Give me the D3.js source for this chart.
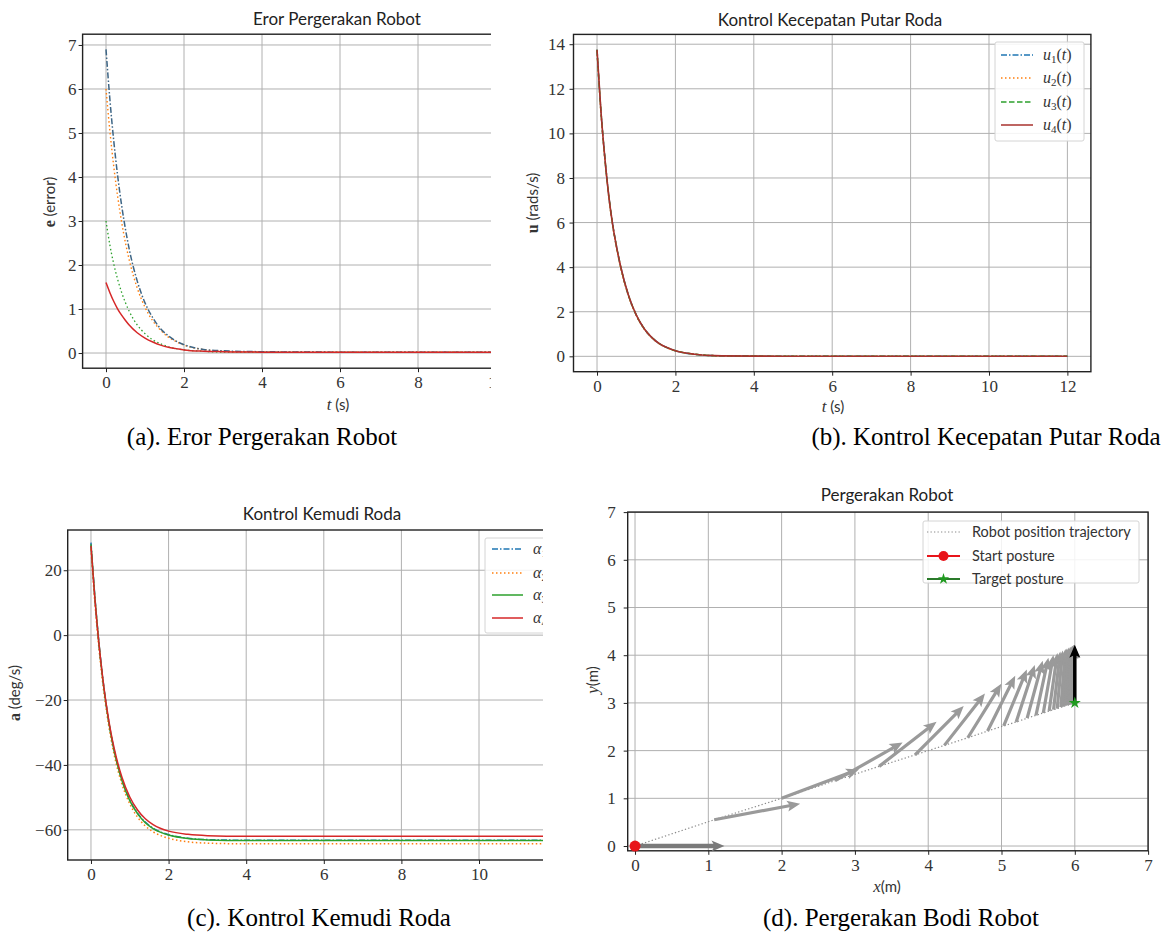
<!DOCTYPE html>
<html>
<head>
<meta charset="utf-8">
<script src="https://cdn.jsdelivr.net/npm/d3@7/dist/d3.min.js"></script>
<style>
  body { margin: 0; background: #fff; }
</style>
</head>
<body>
<svg id="fig" width="1162" height="945"></svg>
<script>
// ---- data ----
var timeSteps = [0, 0.1, 0.2, 0.3, 0.4, 0.5, 0.6, 0.8, 1.0, 1.2, 1.4, 1.6, 1.8, 2.0, 2.5, 3, 4, 6, 8, 10, 12];

// (a) error
var err1 = [6.9, 5.76, 4.81, 4.02, 3.36, 2.81, 2.34, 1.64, 1.14, 0.80, 0.55, 0.39, 0.27, 0.19, 0.08, 0.05, 0.03, 0.02, 0.02, 0.02, 0.02];
var err2 = [6.0, 5.04, 4.23, 3.55, 2.98, 2.50, 2.10, 1.48, 1.04, 0.73, 0.52, 0.36, 0.26, 0.18, 0.08, 0.04, 0.02, 0.02, 0.02, 0.02, 0.02];
var err3 = [3.0, 2.45, 2.02, 1.67, 1.38, 1.14, 0.94, 0.64, 0.44, 0.30, 0.21, 0.14, 0.10, 0.07, 0.04, 0.02, 0.02, 0.02, 0.02, 0.02, 0.02];
var err4 = [1.6, 1.37, 1.17, 1.0, 0.86, 0.74, 0.63, 0.46, 0.34, 0.25, 0.18, 0.13, 0.10, 0.07, 0.04, 0.03, 0.02, 0.02, 0.02, 0.02, 0.02];

// (b) wheel speed control
var u1 = [13.75, 11.0, 8.9, 7.2, 5.9, 4.9, 4.05, 2.75, 1.86, 1.25, 0.84, 0.56, 0.38, 0.25, 0.09, 0.03, 0.01, 0, 0, 0, 0];
var u2 = [13.7, 10.95, 8.85, 7.15, 5.85, 4.85, 4.0, 2.72, 1.84, 1.24, 0.83, 0.55, 0.37, 0.25, 0.09, 0.03, 0.01, 0, 0, 0, 0];
var u3 = [13.75, 11.0, 8.9, 7.2, 5.9, 4.9, 4.05, 2.75, 1.86, 1.25, 0.84, 0.56, 0.38, 0.25, 0.09, 0.03, 0.01, 0, 0, 0, 0];
var u4 = [13.75, 11.0, 8.9, 7.2, 5.9, 4.9, 4.05, 2.75, 1.86, 1.25, 0.84, 0.56, 0.38, 0.25, 0.09, 0.03, 0.01, 0, 0, 0, 0];

// (c) steering control
var alpha1 = [28.5, 11.9, -1.7, -12.9, -22.0, -29.5, -35.6, -44.7, -50.8, -54.9, -57.6, -59.5, -60.7, -61.5, -62.6, -63.0, -63.2, -63.2, -63.2, -63.2, -63.2];
var alpha2 = [26.5, 10.0, -3.4, -14.5, -23.5, -30.9, -37.0, -46.0, -52.0, -56.1, -58.8, -60.6, -61.8, -62.6, -63.7, -64.1, -64.3, -64.3, -64.3, -64.3, -64.3];
var alpha3 = [28.0, 11.5, -2.1, -13.2, -22.3, -29.7, -35.8, -44.9, -51.0, -55.0, -57.8, -59.6, -60.8, -61.6, -62.7, -63.1, -63.3, -63.3, -63.3, -63.3, -63.3];
var alpha4 = [27.5, 11.3, -2.0, -12.9, -21.8, -29.1, -35.0, -43.9, -49.9, -53.9, -56.6, -58.4, -59.6, -60.4, -61.4, -61.8, -62.0, -62.0, -62.0, -62.0, -62.0];

// (d) robot body motion
var robotX = [0, 1.08, 2.0, 2.73, 3.33, 3.82, 4.22, 4.54, 4.81, 5.03, 5.2, 5.35, 5.47, 5.57, 5.65, 5.71, 5.76, 5.81, 5.84, 5.87, 5.9, 5.92, 5.93, 5.95, 5.96, 5.97, 5.97, 5.98, 5.98, 5.99];
var robotY = [0, 0.55, 1.0, 1.37, 1.67, 1.91, 2.11, 2.27, 2.41, 2.52, 2.6, 2.68, 2.74, 2.79, 2.83, 2.86, 2.88, 2.91, 2.92, 2.94, 2.95, 2.96, 2.97, 2.98, 2.98, 2.99, 2.99, 2.99, 2.99, 3.0];
var robotHeading = [0, 16, 30, 41, 50, 57, 63, 68, 72, 75, 78, 80, 82, 83.5, 84.7, 85.7, 86.5, 87.1, 87.6, 88, 88.4, 88.7, 89, 89.2, 89.3, 89.5, 89.6, 89.7, 89.8, 89.8];
var startPose = [0, 0, 0];
var targetPose = [6, 3, 90];
var arrowLen = 1.22;

var ticksA = [0, 2, 4, 6, 8, 10, 12];
var ticksD = [0, 1, 2, 3, 4, 5, 6, 7];

// ---- drawing ----
var svg = d3.select("#fig");
var serif = "'Liberation Serif','DejaVu Serif',serif";
var sans = "Lato,'Open Sans','DejaVu Sans',sans-serif";
var C0 = "#1f77b4", C1 = "#ff7f0e", C2 = "#2ca02c", C3 = "#d62728";
var DASHDOT = "6,2,1.5,2", DOT = "1.5,2.5", DASH = "5.5,2.5";

var defs = svg.append("defs");
function clipRect(id, x, y, w, h) {
    defs.append("clipPath").attr("id", id).append("rect")
        .attr("x", x).attr("y", y).attr("width", w).attr("height", h);
}
clipRect("clipA", 0, 0, 491, 425);
clipRect("clipB", 520, 0, 642, 425);
clipRect("clipC", 0, 460, 543, 420);
clipRect("clipD", 560, 460, 602, 440);

function makePanel(cfg) {
    var g = svg.append("g").attr("clip-path", "url(#" + cfg.clip + ")");
    var x = d3.scaleLinear().domain(cfg.xDomain).range(cfg.xRange);
    var y = d3.scaleLinear().domain(cfg.yDomain).range(cfg.yRange);
    var left = cfg.xRange[0], right = cfg.xRange[1];
    var top = cfg.yRange[1], bottom = cfg.yRange[0];

    // grid
    var grid = g.append("g").attr("stroke", "#b0b0b0").attr("stroke-width", 1);
    grid.selectAll(".gx").data(cfg.xTicks).enter().append("line")
        .attr("x1", function(d) { return x(d); }).attr("x2", function(d) { return x(d); })
        .attr("y1", top).attr("y2", bottom);
    grid.selectAll(".gy").data(cfg.yTicks).enter().append("line")
        .attr("x1", left).attr("x2", right)
        .attr("y1", function(d) { return y(d); }).attr("y2", function(d) { return y(d); });

    // axes
    var xAxis = d3.axisBottom(x).tickValues(cfg.xTicks).tickSize(4).tickPadding(4)
        .tickFormat(cfg.xFmt || d3.format("d"));
    var yAxis = d3.axisLeft(y).tickValues(cfg.yTicks).tickSize(4).tickPadding(cfg.yPad)
        .tickFormat(cfg.yFmt || d3.format("d"));
    [g.append("g").attr("transform", "translate(0," + bottom + ")").call(xAxis),
     g.append("g").attr("transform", "translate(" + left + ",0)").call(yAxis)]
        .forEach(function(a) {
            a.select(".domain").remove();
            a.selectAll(".tick line").attr("stroke", "#222").attr("stroke-width", 1);
            a.selectAll(".tick text").attr("fill", "#333")
                .style("font-family", serif).style("font-size", "17px");
        });

    // frame
    g.append("rect").attr("x", left).attr("y", top)
        .attr("width", right - left).attr("height", bottom - top)
        .attr("fill", "none").attr("stroke", "#222").attr("stroke-width", 1.4);

    // title
    g.append("text").attr("x", cfg.titleX).attr("y", cfg.titleY)
        .attr("text-anchor", "middle").attr("fill", "#222")
        .style("font-family", sans).style("font-size", "17px")
        .text(cfg.title);

    return {g: g, x: x, y: y, left: left, right: right, top: top, bottom: bottom};
}

function drawSeries(p, xs, ys, color, dash, width) {
    var line = d3.line()
        .x(function(d, i) { return p.x(xs[i]); })
        .y(function(d) { return p.y(d); })
        .curve(d3.curveMonotoneX);
    p.g.append("path").datum(ys).attr("d", line)
        .attr("fill", "none").attr("stroke", color)
        .attr("stroke-width", width || 1.5)
        .attr("stroke-dasharray", dash || null);
}

// mixed label: parts = [[text, font, style, weight, size, dy]]
function richText(sel, parts) {
    parts.forEach(function(pt) {
        var t = sel.append("tspan").text(pt[0])
            .style("font-family", pt[1] === "serif" ? serif : sans)
            .style("font-size", (pt[4] || 15) + "px");
        if (pt[2]) t.style("font-style", pt[2]);
        if (pt[3]) t.style("font-weight", pt[3]);
        if (pt[5]) t.attr("dy", pt[5]);
    });
    return sel;
}

function xLabel(p, cx, by) {
    var t = p.g.append("text").attr("x", cx).attr("y", by)
        .attr("text-anchor", "middle").attr("fill", "#333");
    richText(t, [["t", "serif", "italic", null, 17], [" (s)", "sans", null, null, 15]]);
}

function yLabel(p, bx, cy, parts) {
    var t = p.g.append("text").attr("transform", "translate(" + bx + "," + cy + ") rotate(-90)")
        .attr("text-anchor", "middle").attr("fill", "#333");
    richText(t, parts);
}

function legendBox(p, x0, y0, w, h) {
    p.g.append("rect").attr("x", x0).attr("y", y0).attr("width", w).attr("height", h)
        .attr("rx", 2).attr("fill", "#fff").attr("fill-opacity", 0.85)
        .attr("stroke", "#d4d4d4").attr("stroke-width", 1);
}

function subLabel(p, x0, yc, sym, idx) {
    var t = p.g.append("text").attr("x", x0).attr("y", yc + 5).attr("fill", "#333");
    richText(t, [[sym, "serif", "italic", null, 16],
                 [idx, "serif", null, null, 11, 3],
                 ["(", "serif", null, null, 16, -3],
                 ["t", "serif", "italic", null, 16],
                 [")", "serif", null, null, 16]]);
}

// ---------- (a) ----------
var pa = makePanel({
    clip: "clipA",
    xDomain: [-0.6, 12.6], xRange: [82.6, 597.4],
    yDomain: [-0.345, 7.245], yRange: [368.2, 34.2],
    xTicks: ticksA, yTicks: [0, 1, 2, 3, 4, 5, 6, 7], yPad: 2,
    title: "Eror Pergerakan Robot", titleX: 337, titleY: 25
});
drawSeries(pa, timeSteps, err3, C2, DOT, 1.3);
drawSeries(pa, timeSteps, err2, C1, DOT, 1.4);
drawSeries(pa, timeSteps, err1, "#3d6585", DASHDOT, 1.5);
drawSeries(pa, timeSteps, err4, C3, null, 1.5);
xLabel(pa, 338, 410);
yLabel(pa, 55, 202, [["e", "serif", null, "bold", 16], [" (error)", "sans", null, null, 15]]);

// ---------- (b) ----------
var pb = makePanel({
    clip: "clipB",
    xDomain: [-0.6, 12.6], xRange: [573.5, 1090.9],
    yDomain: [-0.69, 14.44], yRange: [371.7, 34.4],
    xTicks: ticksA, yTicks: [0, 2, 4, 6, 8, 10, 12, 14], yPad: 4.5,
    title: "Kontrol Kecepatan Putar Roda", titleX: 830, titleY: 26
});
drawSeries(pb, timeSteps, u1, C0, DASHDOT);
drawSeries(pb, timeSteps, u2, C1, DOT);
drawSeries(pb, timeSteps, u3, C2, DASH);
drawSeries(pb, timeSteps, u4, "#a8322e", null, 1.6);
xLabel(pb, 833, 412);
yLabel(pb, 538, 203, [["u", "serif", null, "bold", 16], [" (rads/s)", "sans", null, null, 15]]);

var legB = [
    {c: C0, d: DASHDOT, i: "1"}, {c: C1, d: DOT, i: "2"},
    {c: C2, d: DASH, i: "3"}, {c: "#a8322e", d: null, i: "4"}
];
var legBRows = [55, 78, 102, 125];
legendBox(pb, 995, 42, 89, 99);
legB.forEach(function(it, k) {
    pb.g.append("line").attr("x1", 1001).attr("x2", 1033)
        .attr("y1", legBRows[k]).attr("y2", legBRows[k])
        .attr("stroke", it.c).attr("stroke-width", 1.5).attr("stroke-dasharray", it.d);
    subLabel(pb, 1043, legBRows[k], "u", it.i);
});

// ---------- (c) ----------
var minusFmt = function(d) { return d < 0 ? "\u2212" + Math.abs(d) : d; };
var pc = makePanel({
    clip: "clipC",
    xDomain: [-0.6, 12.6], xRange: [67.7, 579.9],
    yDomain: [-69.3, 32.4], yRange: [860, 530],
    xTicks: ticksA, yTicks: [-60, -40, -20, 0, 20], yPad: 2, yFmt: minusFmt,
    title: "Kontrol Kemudi Roda", titleX: 322, titleY: 520
});
drawSeries(pc, timeSteps, alpha1, C0, DASHDOT);
drawSeries(pc, timeSteps, alpha2, C1, DOT);
drawSeries(pc, timeSteps, alpha3, C2, null);
drawSeries(pc, timeSteps, alpha4, C3, null);
xLabel(pc, 322, 900);
yLabel(pc, 20, 693, [["a", "serif", null, "bold", 16], [" (deg/s)", "sans", null, null, 15]]);

var legC = [
    {c: C0, d: DASHDOT, i: "1"}, {c: C1, d: DOT, i: "2"},
    {c: C2, d: null, i: "3"}, {c: C3, d: null, i: "4"}
];
var legCRows = [549, 573, 595, 618];
legendBox(pc, 485, 538, 90, 95);
legC.forEach(function(it, k) {
    pc.g.append("line").attr("x1", 492).attr("x2", 523)
        .attr("y1", legCRows[k]).attr("y2", legCRows[k])
        .attr("stroke", it.c).attr("stroke-width", 1.5).attr("stroke-dasharray", it.d);
    subLabel(pc, 533, legCRows[k], "\u03b1", it.i);
});

// ---------- (d) ----------
var pd = makePanel({
    clip: "clipD",
    xDomain: [-0.1, 7], xRange: [627.7, 1148.1],
    yDomain: [-0.1, 7], yRange: [850.8, 512.1],
    xTicks: ticksD, yTicks: ticksD, yPad: 8,
    title: "Pergerakan Robot", titleX: 887, titleY: 501
});

// trajectory
var traj = d3.line()
    .x(function(d, i) { return pd.x(robotX[i]); })
    .y(function(d) { return pd.y(d); });
pd.g.append("path").datum(robotY.concat([targetPose[1]]))
    .attr("d", d3.line()
        .x(function(d, i) { return pd.x(i < robotX.length ? robotX[i] : targetPose[0]); })
        .y(function(d) { return pd.y(d); }))
    .attr("fill", "none").attr("stroke", "#8a8a8a").attr("stroke-width", 1.2)
    .attr("stroke-dasharray", "1.3,2.2");

function arrow(px, py, deg, color, sw) {
    var th = deg * Math.PI / 180;
    var x0 = pd.x(px), y0 = pd.y(py);
    var x1 = pd.x(px + arrowLen * Math.cos(th)), y1 = pd.y(py + arrowLen * Math.sin(th));
    var L = Math.hypot(x1 - x0, y1 - y0);
    var ux = (x1 - x0) / L, uy = (y1 - y0) / L, nx = -uy, ny = ux;
    var hl = 13, hal = 11, hw = 5.5, s = sw / 2;
    var pts = [
        [x0 + nx * s, y0 + ny * s],
        [x1 - ux * hal + nx * s, y1 - uy * hal + ny * s],
        [x1 - ux * hl + nx * hw, y1 - uy * hl + ny * hw],
        [x1, y1],
        [x1 - ux * hl - nx * hw, y1 - uy * hl - ny * hw],
        [x1 - ux * hal - nx * s, y1 - uy * hal - ny * s],
        [x0 - nx * s, y0 - ny * s]
    ];
    pd.g.append("path").attr("d", "M" + pts.join("L") + "Z")
        .attr("fill", color).attr("stroke", "none");
}
robotX.forEach(function(v, i) {
    arrow(v, robotY[i], robotHeading[i], i === 0 ? "#7a7a7a" : "#9a9a9a", i === 0 ? 4.5 : 3.2);
});
arrow(targetPose[0], targetPose[1], targetPose[2], "#000", 3.5);

// start / target markers
pd.g.append("circle").attr("cx", pd.x(startPose[0])).attr("cy", pd.y(startPose[1]))
    .attr("r", 5.5).attr("fill", "#e8141a");
pd.g.append("path").attr("d", d3.symbol(d3.symbolStar).size(45)())
    .attr("transform", "translate(" + pd.x(targetPose[0]) + "," + pd.y(targetPose[1]) + ")")
    .attr("fill", "#1f9a1f");

var xl = pd.g.append("text").attr("x", 887).attr("y", 892).attr("text-anchor", "middle").attr("fill", "#333");
richText(xl, [["x", "serif", "italic", null, 17], ["(m)", "sans", null, null, 15]]);
yLabel(pd, 598, 680, [["y", "serif", "italic", null, 17], ["(m)", "sans", null, null, 15]]);

legendBox(pd, 923, 521, 216, 62);
var legDRows = [532, 556, 579];
pd.g.append("line").attr("x1", 927).attr("x2", 960).attr("y1", legDRows[0]).attr("y2", legDRows[0])
    .attr("stroke", "#8a8a8a").attr("stroke-width", 1.2).attr("stroke-dasharray", "1.3,2.2");
pd.g.append("line").attr("x1", 927).attr("x2", 960).attr("y1", legDRows[1]).attr("y2", legDRows[1])
    .attr("stroke", "#e8141a").attr("stroke-width", 2);
pd.g.append("circle").attr("cx", 943.5).attr("cy", legDRows[1]).attr("r", 5).attr("fill", "#e8141a");
pd.g.append("line").attr("x1", 927).attr("x2", 960).attr("y1", legDRows[2]).attr("y2", legDRows[2])
    .attr("stroke", "#2a7a2a").attr("stroke-width", 2);
pd.g.append("path").attr("d", d3.symbol(d3.symbolStar).size(40)())
    .attr("transform", "translate(943.5," + legDRows[2] + ")").attr("fill", "#1f9a1f");
["Robot position trajectory", "Start posture", "Target posture"].forEach(function(s, k) {
    pd.g.append("text").attr("x", 972).attr("y", legDRows[k] + 5).attr("fill", "#333")
        .style("font-family", sans).style("font-size", "14.5px").text(s);
});

// ---------- captions ----------
var captions = [
    {t: "(a). Eror Pergerakan Robot", x: 262, y: 445},
    {t: "(b). Kontrol Kecepatan Putar Roda", x: 986, y: 445},
    {t: "(c). Kontrol Kemudi Roda", x: 319, y: 926},
    {t: "(d). Pergerakan Bodi Robot", x: 901, y: 926}
];
svg.selectAll(".cap").data(captions).enter().append("text")
    .attr("x", function(d) { return d.x; }).attr("y", function(d) { return d.y; })
    .attr("text-anchor", "middle").attr("fill", "#000")
    .style("font-family", "'Liberation Serif','Times New Roman',serif").style("font-size", "25px")
    .text(function(d) { return d.t; });
</script>
</body>
</html>
